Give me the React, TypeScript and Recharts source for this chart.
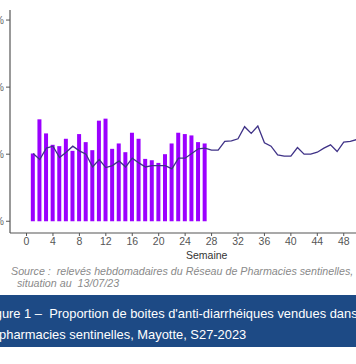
import { Bar, ComposedChart, Line, XAxis, YAxis } from "recharts"

const weeks = Array.from({ length: 51 }, (_, i) => i + 1)

// 2023 weekly proportion (bars, S1-S27)
const current = [
  1.01, 1.52, 1.31, 1.14, 1.12, 1.23, 1.05, 1.3, 1.18, 1.06, 1.5, 1.53, 1.08, 1.16, 1.03, 1.32, 1.23, 0.93, 0.91,
  0.87, 1.0, 1.16, 1.32, 1.3, 1.28, 1.18, 1.16,
]

// reference curve (line, S1-S51)
const reference = [
  1.01, 0.92, 1.09, 1.12, 0.95, 1.03, 1.12, 1.05, 1.0, 0.81, 0.92, 0.8, 0.83, 0.9, 0.81, 0.94, 0.87, 0.81, 0.83,
  0.83, 0.83, 0.78, 0.94, 0.94, 1.01, 1.08, 1.09, 1.06, 1.06, 1.19, 1.2, 1.23, 1.41, 1.31, 1.42, 1.17, 1.12, 0.99,
  0.97, 0.97, 1.1, 1.0, 1.0, 1.03, 1.09, 1.14, 1.04, 1.18, 1.19, 1.22, 1.24,
]

const xTicks = [0, 4, 8, 12, 16, 20, 24, 28, 32, 36, 40, 44, 48, 52]
const yTicks = [0, 1, 2, 3]

const data = weeks.map((w, i) => ({ semaine: w, annee: current[i], reference: reference[i] }))

const font = "'Liberation Sans', Arial, sans-serif"

export default function App() {
  return (
    <div
      style={{
        position: "absolute",
        left: 0,
        top: 0,
        width: 356,
        height: 364,
        overflow: "hidden",
        background: "white",
        fontFamily: font,
      }}
    >
      <div style={{ position: "absolute", left: -40, top: 0 }}>
        <ComposedChart width={430} height={250} data={data} margin={{ top: 10, right: 0, left: 0, bottom: 0 }}>
          <XAxis
            dataKey="semaine"
            type="number"
            domain={[-2.5, 55]}
            ticks={xTicks}
            allowDataOverflow
            interval={0}
            height={17}
            tickSize={3}
            tickMargin={2}
            tick={{ fontSize: 10.5, fill: "#555", fontFamily: font }}
            axisLine={{ stroke: "#555", strokeWidth: 1.2 }}
            tickLine={{ stroke: "#555" }}
          />
          <YAxis
            width={50}
            domain={[-0.175, 3.15]}
            ticks={yTicks}
            allowDataOverflow
            tickSize={4}
            tickMargin={2}
            tickFormatter={(v) => `${v}%`}
            tick={{ fontSize: 10, fill: "#666", fontFamily: font }}
            axisLine={{ stroke: "#555", strokeWidth: 1.2 }}
            tickLine={{ stroke: "#555" }}
          />
          <Bar dataKey="annee" fill="#9b00ff" barSize={4} isAnimationActive={false} />
          <Line
            dataKey="reference"
            type="linear"
            stroke="#3f3287"
            strokeWidth={1.3}
            dot={false}
            isAnimationActive={false}
          />
        </ComposedChart>
      </div>
      <div style={{ position: "absolute", left: 186, top: 249, fontSize: 10.5, color: "#333" }}>Semaine</div>
      <div
        style={{
          position: "absolute",
          left: 11,
          top: 265,
          fontSize: 10.7,
          fontStyle: "italic",
          color: "#8a8a8a",
          whiteSpace: "nowrap",
          lineHeight: "12px",
        }}
      >
        Source :&nbsp; relevés hebdomadaires du Réseau de Pharmacies sentinelles,
        <br />
        &nbsp;&nbsp;situation au&nbsp; 13/07/23
      </div>
      <div style={{ position: "absolute", left: 0, top: 295, width: 356, height: 52, background: "#1d4a85" }} />
      <div
        style={{
          position: "absolute",
          left: -16,
          top: 304,
          fontSize: 12.9,
          color: "white",
          whiteSpace: "nowrap",
          lineHeight: "20px",
        }}
      >
        Figure 1 –&nbsp; Proportion de boites d'anti-diarrhéiques vendues dans
      </div>
      <div
        style={{
          position: "absolute",
          left: -21,
          top: 325,
          fontSize: 12.9,
          color: "white",
          whiteSpace: "nowrap",
          lineHeight: "20px",
        }}
      >
        les pharmacies sentinelles, Mayotte, S27-2023
      </div>
    </div>
  )
}
